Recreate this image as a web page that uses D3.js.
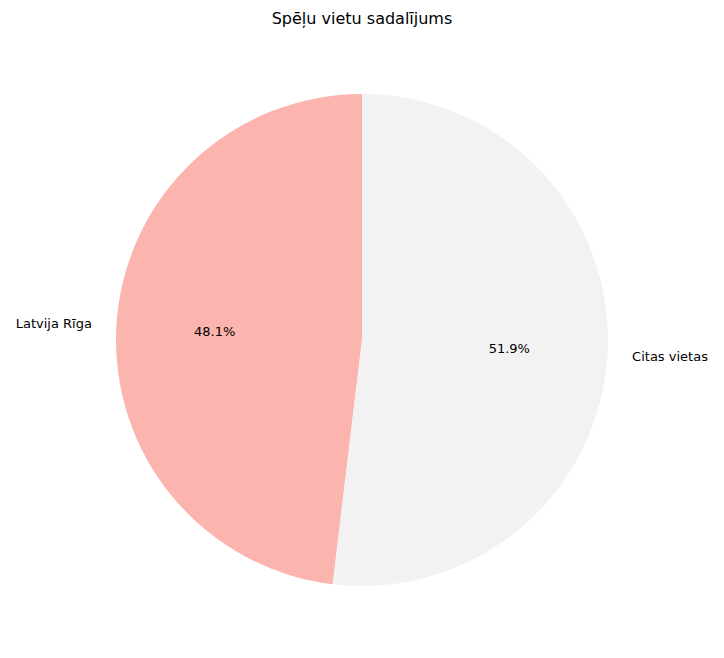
<!DOCTYPE html>
<html lang="lv">
<head>
<meta charset="UTF-8" />
<title>Spēļu vietu sadalījums</title>
<script src="https://d3js.org/d3.v7.min.js"></script>
<style>
    body { margin: 0; background: #fff; }
    text { font-family: "DejaVu Sans", sans-serif; }
</style>
</head>
<body>
<div id="chart"></div>
<script>
    // --- Data ---
    const labels = ["Latvija Rīga", "Citas vietas"];
    const values = [48.1, 51.9];
    const colors = ["#fbb4ae", "#f2f2f2"];

    const width = 724, height = 658;
    const cx = 362, cy = 340, r = 246;

    const svg = d3.select("#chart").append("svg")
        .attr("width", width).attr("height", height);

    svg.append("text")
        .attr("x", cx).attr("y", 24)
        .attr("text-anchor", "middle")
        .attr("font-size", "16px")
        .text("Spēļu vietu sadalījums");

    // matplotlib style: start at top, go counterclockwise
    const total = d3.sum(values);
    const pie = d3.pie().sort(null).value(d => d)
        .startAngle(0).endAngle(-2 * Math.PI);
    const arcs = pie(values);
    const arc = d3.arc().innerRadius(0).outerRadius(r);

    const g = svg.append("g").attr("transform", `translate(${cx},${cy})`);

    g.selectAll("path").data(arcs).enter().append("path")
        .attr("d", arc)
        .attr("fill", (d, i) => colors[i]);

    arcs.forEach((d, i) => {
        const mid = (d.startAngle + d.endAngle) / 2;
        const sx = Math.sin(mid), sy = -Math.cos(mid);
        g.append("text")
            .attr("x", sx * r * 1.1).attr("y", sy * r * 1.1)
            .attr("dy", "0.35em")
            .attr("text-anchor", sx < 0 ? "end" : "start")
            .attr("font-size", "13px")
            .text(labels[i]);
        g.append("text")
            .attr("x", sx * r * 0.6).attr("y", sy * r * 0.6)
            .attr("dy", "0.35em")
            .attr("text-anchor", "middle")
            .attr("font-size", "13px")
            .text((values[i] / total * 100).toFixed(1) + "%");
    });
</script>
</body>
</html>
